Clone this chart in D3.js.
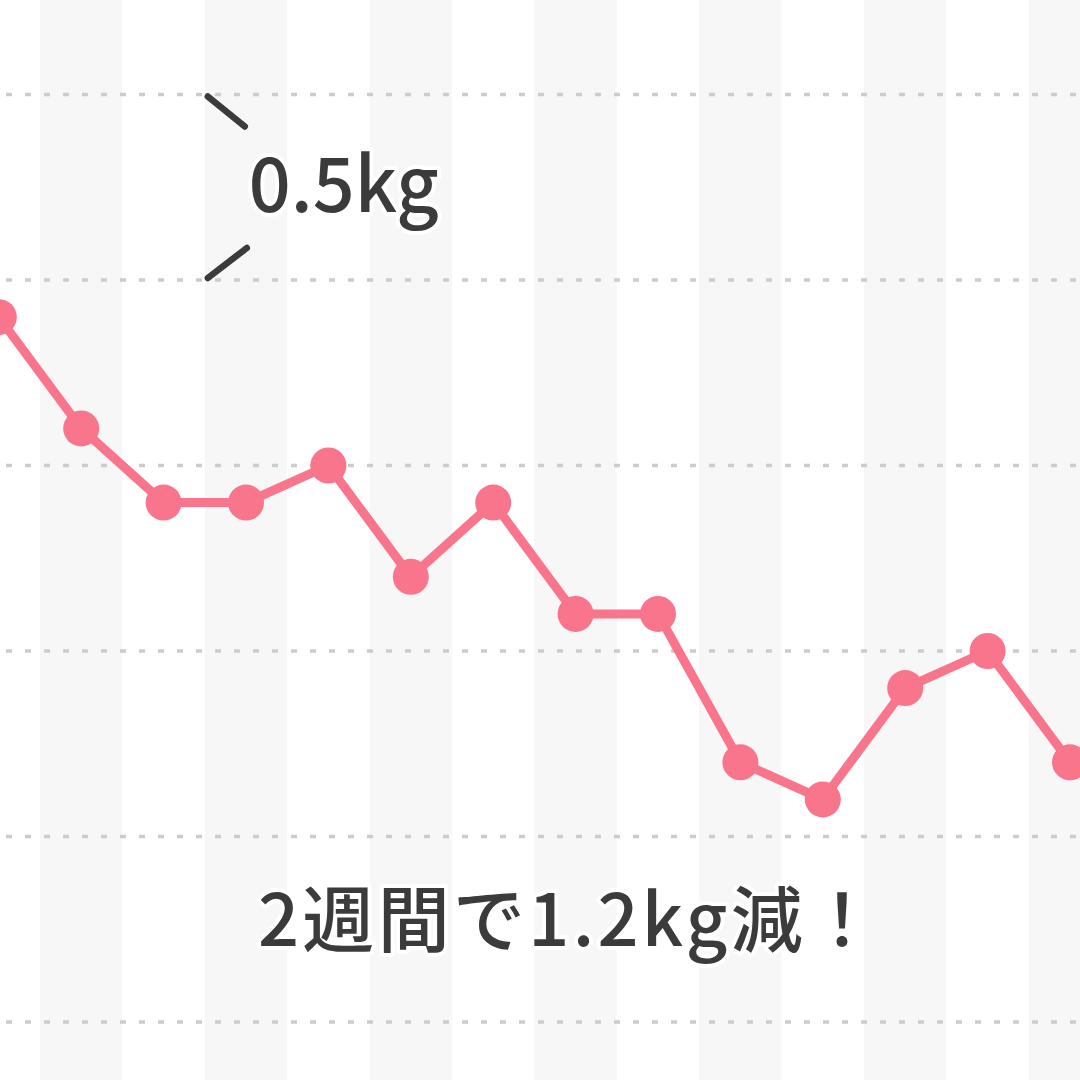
<!DOCTYPE html>
<html>
<head>
<meta charset="utf-8">
<script src="https://cdn.jsdelivr.net/npm/d3@7"></script>
<style>
  html, body { margin: 0; padding: 0; background: #fff; }
  svg { display: block; }
</style>
</head>
<body>
<div id="chart"></div>
<script>
// 14 days of weight readings (kg)
const days = d3.range(1, 15);
const weights = [49.9, 49.6, 49.4, 49.4, 49.5, 49.2, 49.4, 49.1, 49.1, 48.7, 48.6, 48.9, 49.0, 48.7];
const gridLevels = [48.0, 48.5, 49.0, 49.5, 50.0, 50.5];
const bracketTop = 50.5, bracketBottom = 50.0;
const bracketLabel = "0.5kg";
const caption = "2週間で1.2kg減！";

const width = 1080, height = 1080;
const font = "'Noto Sans CJK JP', 'Noto Sans', sans-serif";
const ink = "#3b3b3b";

const svg = d3.select("#chart").append("svg")
    .attr("width", width)
    .attr("height", height);

const x = d3.scaleLinear().domain([1, 14]).range([-1.2, 1070]);
const y = d3.scaleLinear().domain([50, 48.5]).range([280, 836.5]);
const band = x(2) - x(1);

// alternating day stripes
svg.append("g").selectAll("rect")
    .data(days)
    .enter().append("rect")
    .attr("x", d => x(d) - band / 2)
    .attr("y", 0)
    .attr("width", band)
    .attr("height", height)
    .attr("fill", (d, i) => i % 2 ? "#f7f7f7" : "#ffffff");

// dotted grid
svg.append("g").selectAll("line")
    .data(gridLevels)
    .enter().append("line")
    .attr("x1", 0).attr("x2", width)
    .attr("y1", d => y(d)).attr("y2", d => y(d))
    .attr("stroke", "#cccccc")
    .attr("stroke-width", 3.5)
    .attr("stroke-dasharray", "6 13")
    .attr("stroke-dashoffset", -6);

// bracket marking 0.5kg
const bx = x(3.5);
svg.append("line")
    .attr("x1", bx + 3).attr("y1", y(bracketTop) + 2)
    .attr("x2", bx + 40).attr("y2", y(bracketTop) + 32)
    .attr("stroke", ink).attr("stroke-width", 6.5).attr("stroke-linecap", "round");
svg.append("line")
    .attr("x1", bx + 3).attr("y1", y(bracketBottom) - 2)
    .attr("x2", bx + 42).attr("y2", y(bracketBottom) - 32)
    .attr("stroke", ink).attr("stroke-width", 6.5).attr("stroke-linecap", "round");

svg.append("text")
    .attr("x", bx + 44)
    .attr("y", (y(bracketTop) + y(bracketBottom)) / 2 + 25)
    .attr("font-family", font)
    .attr("font-weight", 500)
    .attr("font-size", 76)
    .attr("textLength", 190)
    .attr("lengthAdjust", "spacingAndGlyphs")
    .attr("fill", ink)
    .attr("stroke", "#fff")
    .attr("stroke-width", 8)
    .attr("stroke-linejoin", "round")
    .attr("paint-order", "stroke")
    .text(bracketLabel);

// weight line
const line = d3.line().x((d, i) => x(days[i])).y(d => y(d));
svg.append("path")
    .datum(weights)
    .attr("fill", "none")
    .attr("stroke", "#f8758b")
    .attr("stroke-width", 9)
    .attr("stroke-linejoin", "round")
    .attr("d", line);

svg.append("g").selectAll("circle")
    .data(weights)
    .enter().append("circle")
    .attr("cx", (d, i) => x(days[i]))
    .attr("cy", d => y(d))
    .attr("r", 18)
    .attr("fill", "#f8758b");

// caption
svg.append("text")
    .attr("x", 568)
    .attr("y", 946)
    .attr("text-anchor", "middle")
    .attr("font-family", font)
    .attr("font-weight", 500)
    .attr("font-size", 72)
    .attr("textLength", 620)
    .attr("lengthAdjust", "spacing")
    .attr("fill", ink)
    .attr("stroke", "#fff")
    .attr("stroke-width", 8)
    .attr("stroke-linejoin", "round")
    .attr("paint-order", "stroke")
    .text(caption);
</script>
</body>
</html>
